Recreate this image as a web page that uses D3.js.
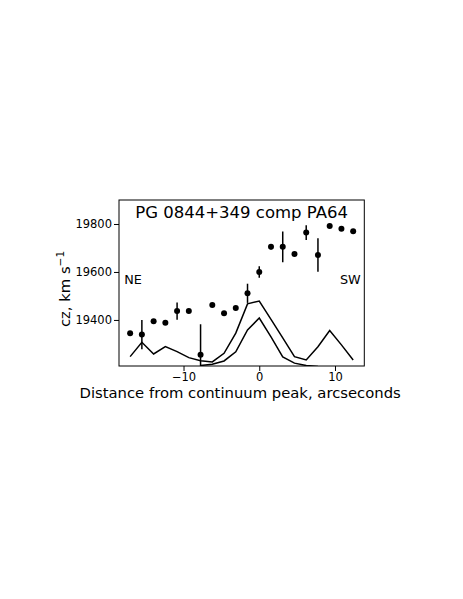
<!DOCTYPE html>
<html>
<head>
<meta charset="utf-8">
<script src="https://cdn.jsdelivr.net/npm/d3@7"></script>
<style>
  body { margin: 0; background: #fff; }
  text { font-family: "DejaVu Sans", sans-serif; fill: #000; }
</style>
</head>
<body>
<div id="chart"></div>
<script>
// Data
const offsets = [-17.05, -15.5, -13.95, -12.4, -10.85, -9.3, -7.75, -6.2, -4.65, -3.1,
                 -1.55, 0, 1.55, 3.1, 4.65, 6.2, 7.75, 9.3, 10.85, 12.4];
const cz = [19345, 19339, 19395, 19388, 19437, 19437, 19255, 19462, 19428, 19450,
            19511, 19600, 19705, 19705, 19675, 19764, 19671, 19792, 19780, 19770];
const czErr = [0, 61, 0, 0, 36, 0, 127, 0, 0, 0,
               40, 24, 11, 64, 0, 31, 70, 0, 0, 0];
// flux profiles (scaled into velocity units)
const profileOuter = [19247, 19307, 19258, 19289, 19268, 19243, 19230, 19225, 19261, 19345,
                      19467, 19479, 19402, 19325, 19247, 19233, 19288, 19356, 19296, 19233];
const profileInnerX = [-7.75, -6.2, -4.65, -3.1, -1.55, 0, 1.55, 3.1, 4.65, 6.2, 7.75];
const profileInner = [19210, 19215, 19229, 19267, 19358, 19408, 19329, 19246, 19220, 19210, 19206];
const xTicks = [-10, 0, 10];
const yTicks = [19400, 19600, 19800];

const W = 463, H = 599;
const box = { left: 119, top: 200, right: 364.3, bottom: 366 };

const svg = d3.select("#chart")
  .append("svg")
  .attr("width", W)
  .attr("height", H);

const xScale = d3.scaleLinear()
  .domain([-18.52, 13.87])
  .range([box.left, box.right]);

const yScale = d3.scaleLinear()
  .domain([19208, 19900])
  .range([box.bottom, box.top]);

svg.append("clipPath")
  .attr("id", "plot-clip")
  .append("rect")
  .attr("x", box.left)
  .attr("y", box.top)
  .attr("width", box.right - box.left)
  .attr("height", box.bottom - box.top);

const plot = svg.append("g").attr("clip-path", "url(#plot-clip)");

// Profile lines
const line = d3.line()
  .x(d => xScale(d[0]))
  .y(d => yScale(d[1]));

plot.append("path")
  .datum(offsets.map((x, i) => [x, profileOuter[i]]))
  .attr("d", line)
  .attr("fill", "none")
  .attr("stroke", "#000")
  .attr("stroke-width", 1.5);

plot.append("path")
  .datum(profileInnerX.map((x, i) => [x, profileInner[i]]))
  .attr("d", line)
  .attr("fill", "none")
  .attr("stroke", "#000")
  .attr("stroke-width", 1.5);

// Error bars
const points = offsets.map((x, i) => ({ x: x, y: cz[i], e: czErr[i] }));

plot.selectAll(".err")
  .data(points.filter(d => d.e > 0))
  .enter()
  .append("line")
  .attr("class", "err")
  .attr("x1", d => xScale(d.x))
  .attr("x2", d => xScale(d.x))
  .attr("y1", d => yScale(d.y - d.e))
  .attr("y2", d => yScale(d.y + d.e))
  .attr("stroke", "#000")
  .attr("stroke-width", 1.5);

plot.selectAll(".pt")
  .data(points)
  .enter()
  .append("circle")
  .attr("class", "pt")
  .attr("cx", d => xScale(d.x))
  .attr("cy", d => yScale(d.y))
  .attr("r", 3)
  .attr("fill", "#000");

// Axes
const xAxis = svg.append("g")
  .attr("transform", `translate(0,${box.bottom})`)
  .call(d3.axisBottom(xScale).tickValues(xTicks).tickSize(5).tickPadding(2));

const yAxis = svg.append("g")
  .attr("transform", `translate(${box.left},0)`)
  .call(d3.axisLeft(yScale).tickValues(yTicks).tickFormat(d3.format("d")).tickSize(5).tickPadding(2));

[xAxis, yAxis].forEach(a => {
  a.select(".domain").remove();
  a.selectAll("line").attr("stroke", "#000").attr("stroke-width", 1);
  a.selectAll("text")
    .style("font-family", "DejaVu Sans, sans-serif")
    .style("font-size", "11.5px");
});

// Frame
svg.append("rect")
  .attr("x", box.left)
  .attr("y", box.top)
  .attr("width", box.right - box.left)
  .attr("height", box.bottom - box.top)
  .attr("fill", "none")
  .attr("stroke", "#000")
  .attr("stroke-width", 1);

// Title
svg.append("text")
  .attr("x", (box.left + box.right) / 2)
  .attr("y", 218.3)
  .attr("text-anchor", "middle")
  .style("font-size", "16.5px")
  .text("PG 0844+349 comp PA64");

// NE / SW labels
svg.append("text")
  .attr("x", 124.3)
  .attr("y", 284.3)
  .style("font-size", "12.8px")
  .text("NE");

svg.append("text")
  .attr("x", 360.7)
  .attr("y", 284.3)
  .attr("text-anchor", "end")
  .style("font-size", "12.8px")
  .text("SW");

// Axis labels
svg.append("text")
  .attr("x", (box.left + box.right) / 2 - 1.5)
  .attr("y", 398)
  .attr("text-anchor", "middle")
  .style("font-size", "14.8px")
  .text("Distance from continuum peak, arcseconds");

const yLabel = svg.append("text")
  .attr("transform", "translate(70,289) rotate(-90)")
  .attr("text-anchor", "middle")
  .style("font-size", "14.8px");
yLabel.append("tspan").text("cz, km s");
yLabel.append("tspan")
  .attr("dy", -6)
  .style("font-size", "10.5px")
  .text("\u22121");
</script>
</body>
</html>
